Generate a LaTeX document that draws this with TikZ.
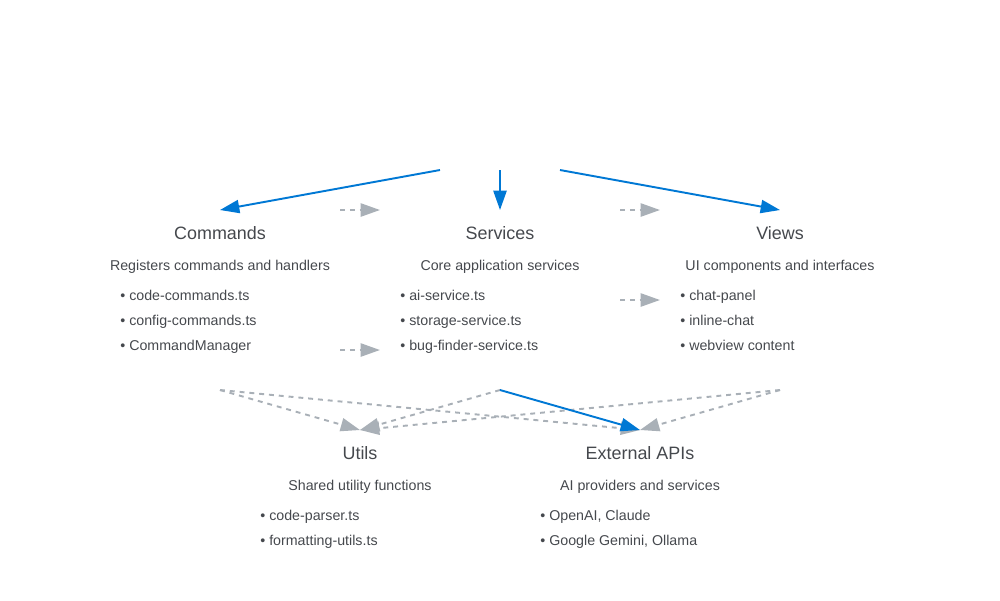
\documentclass[tikz,border=0pt]{standalone}
\usepackage{fontspec}
\setmainfont{Liberation Sans}
\usepackage{xcolor}
\usetikzlibrary{arrows.meta,positioning}

\definecolor{flowblue}{HTML}{0078D4}
\definecolor{depgray}{HTML}{A9B0B7}
\definecolor{textgray}{HTML}{45484D}

\tikzset{
    module/.style={text=textgray, inner sep=0pt, text height=7.4pt, text depth=2.1pt,
        yshift=-0.04cm, font=\fontsize{10.2}{12}\selectfont},
    blurb/.style={text=textgray, inner sep=0pt, text height=5.9pt, text depth=1.7pt,
        yshift=-0.04cm, font=\fontsize{8.1}{9.7}\selectfont},
    item/.style={blurb, anchor=west},
    flow/.style={
        draw=flowblue,
        line width=1.1pt,
        -{Triangle[length=11pt,width=7.5pt]}
        },
    dep/.style={
        draw=depgray,
        line width=1.1pt,
        dash pattern=on 2.8pt off 2.8pt,
        -{Triangle[length=11pt,width=7.5pt]}
        },
}

\begin{document}
\begin{tikzpicture}[x=0.02cm, y=-0.02cm]
                \useasboundingbox (0,0) rectangle (1000,600);

                % anchor points of the connectors
                \coordinate (root w) at (440,170);
                \coordinate (root s) at (500,170);
                \coordinate (root e) at (560,170);
                \coordinate (cmd in) at (220,210);
                \coordinate (svc in) at (500,210);
                \coordinate (view in) at (780,210);
                \coordinate (cmd out) at (220,390);
                \coordinate (svc out) at (500,390);
                \coordinate (view out) at (780,390);
                \coordinate (utl in) at (360,430);
                \coordinate (ext in) at (640,430);

                % Commands
                \node[module] (cmd) at (220,233) {Commands};
                \node[blurb] (cmd desc) at (220,265) {Registers commands and handlers};
                \node[item] (cmd a) at (120,295) {• code-commands.ts};
                \node[item] (cmd b) at (120,320) {• config-commands.ts};
                \node[item] (cmd c) at (120,345) {• CommandManager};

                % Services
                \node[module] (svc) at (500,233) {Services};
                \node[blurb] (svc desc) at (500,265) {Core application services};
                \node[item] (svc a) at (400,295) {• ai-service.ts};
                \node[item] (svc b) at (400,320) {• storage-service.ts};
                \node[item] (svc c) at (400,345) {• bug-finder-service.ts};

                % Views
                \node[module] (view) at (780,233) {Views};
                \node[blurb] (view desc) at (780,265) {UI components and interfaces};
                \node[item] (view a) at (680,295) {• chat-panel};
                \node[item] (view b) at (680,320) {• inline-chat};
                \node[item] (view c) at (680,345) {• webview content};

                % Utils
                \node[module] (utl) at (360,453) {Utils};
                \node[blurb] (utl desc) at (360,485) {Shared utility functions};
                \node[item] (utl a) at (260,515) {• code-parser.ts};
                \node[item] (utl b) at (260,540) {• formatting-utils.ts};

                % External APIs
                \node[module] (ext) at (640,453) {External APIs};
                \node[blurb] (ext desc) at (640,485) {AI providers and services};
                \node[item] (ext a) at (540,515) {• OpenAI, Claude};
                \node[item] (ext b) at (540,540) {• Google Gemini, Ollama};

                % side dependencies
                \coordinate (dep1 s) at (340,210);
                \coordinate (dep1 t) at (380,210);
                \coordinate (dep2 s) at (620,210);
                \coordinate (dep2 t) at (660,210);
                \coordinate (dep3 s) at (620,300);
                \coordinate (dep3 t) at (660,300);
                \coordinate (dep4 s) at (340,350);
                \coordinate (dep4 t) at (380,350);
                \draw[dep] (dep1 s) -- (dep1 t);
                \draw[dep] (dep2 s) -- (dep2 t);
                \draw[dep] (dep3 s) -- (dep3 t);
                \draw[dep] (dep4 s) -- (dep4 t);

                % lower dependencies
                \draw[dep] (cmd out) -- (utl in);
                \draw[dep] (cmd out) -- (ext in);
                \draw[dep] (svc out) -- (utl in);
                \draw[dep] (view out) -- (utl in);
                \draw[dep] (view out) -- (ext in);

                % main flow
                \draw[flow] (root w) -- (cmd in);
                \draw[flow] (root s) -- (svc in);
                \draw[flow] (root e) -- (view in);
                \draw[flow] (svc out) -- (ext in);
            \end{tikzpicture}
\end{document}
